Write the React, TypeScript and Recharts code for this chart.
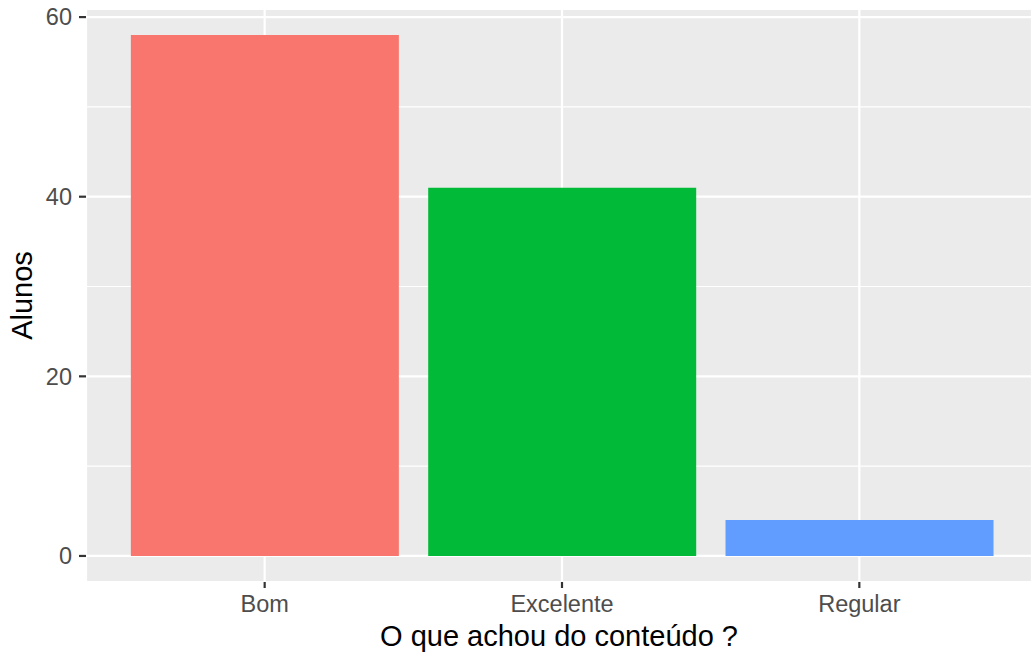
import React from 'react';
import { BarChart, Bar, XAxis, YAxis, CartesianGrid, Cell, Label } from 'recharts';

const categories = ['Bom', 'Excelente', 'Regular'];
const alunos = [58, 41, 4];
const yTicks = [0, 20, 40, 60];
const minorTicks = [10, 30, 50];

const COLORS = ['#F8766D', '#00BA38', '#619CFF'];

const data = categories.map((name, i) => ({ name, value: alunos[i] }));

const App: React.FC = () => {
  return (
    <div style={{ position: 'absolute', left: 0, top: 0, fontFamily: 'Liberation Sans, Arial, sans-serif' }}>
      <BarChart
        width={1032}
        height={656}
        data={data}
        margin={{ top: 9, right: 0, left: 0, bottom: 0 }}
        barCategoryGap="5%"
      >
        {/* panel background + minor grid */}
        <CartesianGrid fill="#EBEBEB" stroke="#FFFFFF" strokeWidth={1.1} vertical={false} horizontalValues={minorTicks} />
        {/* major grid */}
        <CartesianGrid fill="none" stroke="#FFFFFF" strokeWidth={2.2} />
        <XAxis
          dataKey="name"
          height={74}
          padding={{ left: 30, right: 24 }}
          axisLine={false}
          tickLine={{ stroke: '#333333', strokeWidth: 2.2 }}
          tickSize={6}
          tick={{ fill: '#4D4D4D', fontSize: 23.5 }}
          tickMargin={7}
        >
          <Label value="O que achou do conteúdo ?" position="insideBottom" offset={10} fill="#000000" fontSize={29} />
        </XAxis>
        <YAxis
          width={86}
          domain={[-2.9, 60.9]}
          ticks={yTicks}
          axisLine={false}
          tickLine={{ stroke: '#333333', strokeWidth: 2.2 }}
          tickSize={7}
          tick={{ fill: '#4D4D4D', fontSize: 23.5 }}
          tickMargin={7}
        >
          <Label value="Alunos" angle={-90} position="insideLeft" offset={22} fill="#000000" fontSize={29} style={{ textAnchor: 'middle' }} />
        </YAxis>
        <Bar dataKey="value" isAnimationActive={false}>
          {data.map((entry, index) => (
            <Cell key={`cell-${index}`} fill={COLORS[index % COLORS.length]} />
          ))}
        </Bar>
      </BarChart>
    </div>
  );
};

export default App;
